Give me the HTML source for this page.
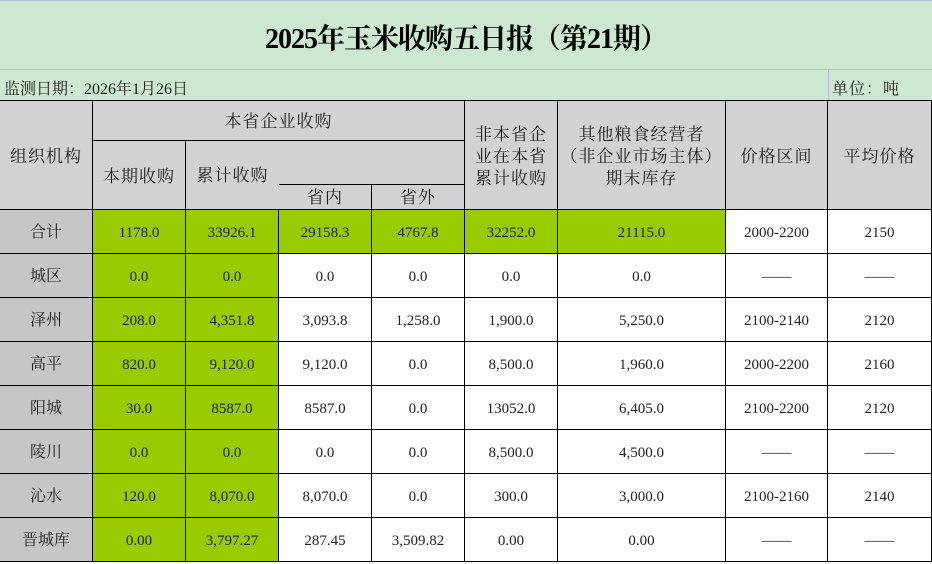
<!DOCTYPE html>
<html><head><meta charset="utf-8">
<style>
*{margin:0;padding:0}
body{width:932px;height:564px;position:relative;background:#fff;overflow:hidden;font-family:"Liberation Serif","Noto Serif CJK SC",serif;color:#222}
.c{position:absolute;box-sizing:border-box;border-right:1px solid #000;border-bottom:1px solid #000;display:flex;align-items:center;justify-content:center;text-align:center;font-size:15px;line-height:1.3;padding-top:4px}
.h{background:#d3d1d3;font-size:17px;letter-spacing:1px}
.n{background:#c6c6c6;font-size:16px}
.g{background:#99cc00}
.w{background:#fff}
</style></head><body>
<div style="position:absolute;left:0;top:0;width:932px;height:70px;background:#cde8d0;border-top:1px solid #b8bcd8;border-bottom:1px solid #b8bcd8;box-sizing:border-box;display:flex;align-items:center;justify-content:center;font-family:'Liberation Serif','Noto Serif CJK SC',serif;font-weight:bold;font-size:28px;color:#000;letter-spacing:-1px;padding-top:4px">2025年玉米收购五日报（第21期）</div>
<div style="position:absolute;left:0;top:70px;width:932px;height:31px;background:#cde8d0"></div>
<div style="position:absolute;left:4px;top:76px;font-size:16px">监测日期：2026年1月26日</div>
<div style="position:absolute;left:828px;top:70px;width:1px;height:31px;background:#b8bcd8"></div>
<div style="position:absolute;left:832px;top:76px;font-size:16px;letter-spacing:1px">单位：吨</div>
<div style="position:absolute;left:0;top:100px;width:932px;height:1px;background:#000"></div>

<div class="c h" style="left:0;top:101px;width:93px;height:109px">组织机构</div>
<div class="c h" style="left:93px;top:101px;width:372px;height:40px">本省企业收购</div>
<div class="c h" style="left:93px;top:141px;width:93px;height:69px">本期收购</div>
<div class="c h" style="left:186px;top:141px;width:93px;height:69px;border-right:none;align-items:flex-start;padding-top:24px">累计收购</div>
<div class="c h" style="left:279px;top:141px;width:186px;height:44px"></div>
<div class="c h" style="left:279px;top:185px;width:93px;height:25px;padding-top:2px">省内</div>
<div class="c h" style="left:372px;top:185px;width:93px;height:25px;padding-top:2px">省外</div>
<div class="c h" style="left:465px;top:101px;width:93px;height:109px">非本省企<br>业在本省<br>累计收购</div>
<div class="c h" style="left:558px;top:101px;width:168px;height:109px">其他粮食经营者<br>（非企业市场主体）<br>期末库存</div>
<div class="c h" style="left:726px;top:101px;width:102px;height:109px">价格区间</div>
<div class="c h" style="left:828px;top:101px;width:104px;height:109px">平均价格</div>

<div class="c n" style="left:0;top:210px;width:93px;height:44px">合计</div>
<div class="c g" style="left:93px;top:210px;width:93px;height:44px">1178.0</div>
<div class="c g" style="left:186px;top:210px;width:93px;height:44px">33926.1</div>
<div class="c g" style="left:279px;top:210px;width:93px;height:44px">29158.3</div>
<div class="c g" style="left:372px;top:210px;width:93px;height:44px">4767.8</div>
<div class="c g" style="left:465px;top:210px;width:93px;height:44px">32252.0</div>
<div class="c g" style="left:558px;top:210px;width:168px;height:44px">21115.0</div>
<div class="c w" style="left:726px;top:210px;width:102px;height:44px">2000-2200</div>
<div class="c w" style="left:828px;top:210px;width:104px;height:44px">2150</div>

<div class="c n" style="left:0;top:254px;width:93px;height:44px">城区</div>
<div class="c g" style="left:93px;top:254px;width:93px;height:44px">0.0</div>
<div class="c g" style="left:186px;top:254px;width:93px;height:44px">0.0</div>
<div class="c w" style="left:279px;top:254px;width:93px;height:44px">0.0</div>
<div class="c w" style="left:372px;top:254px;width:93px;height:44px">0.0</div>
<div class="c w" style="left:465px;top:254px;width:93px;height:44px">0.0</div>
<div class="c w" style="left:558px;top:254px;width:168px;height:44px">0.0</div>
<div class="c w" style="left:726px;top:254px;width:102px;height:44px">——</div>
<div class="c w" style="left:828px;top:254px;width:104px;height:44px">——</div>

<div class="c n" style="left:0;top:298px;width:93px;height:44px">泽州</div>
<div class="c g" style="left:93px;top:298px;width:93px;height:44px">208.0</div>
<div class="c g" style="left:186px;top:298px;width:93px;height:44px">4,351.8</div>
<div class="c w" style="left:279px;top:298px;width:93px;height:44px">3,093.8</div>
<div class="c w" style="left:372px;top:298px;width:93px;height:44px">1,258.0</div>
<div class="c w" style="left:465px;top:298px;width:93px;height:44px">1,900.0</div>
<div class="c w" style="left:558px;top:298px;width:168px;height:44px">5,250.0</div>
<div class="c w" style="left:726px;top:298px;width:102px;height:44px">2100-2140</div>
<div class="c w" style="left:828px;top:298px;width:104px;height:44px">2120</div>

<div class="c n" style="left:0;top:342px;width:93px;height:44px">高平</div>
<div class="c g" style="left:93px;top:342px;width:93px;height:44px">820.0</div>
<div class="c g" style="left:186px;top:342px;width:93px;height:44px">9,120.0</div>
<div class="c w" style="left:279px;top:342px;width:93px;height:44px">9,120.0</div>
<div class="c w" style="left:372px;top:342px;width:93px;height:44px">0.0</div>
<div class="c w" style="left:465px;top:342px;width:93px;height:44px">8,500.0</div>
<div class="c w" style="left:558px;top:342px;width:168px;height:44px">1,960.0</div>
<div class="c w" style="left:726px;top:342px;width:102px;height:44px">2000-2200</div>
<div class="c w" style="left:828px;top:342px;width:104px;height:44px">2160</div>

<div class="c n" style="left:0;top:386px;width:93px;height:44px">阳城</div>
<div class="c g" style="left:93px;top:386px;width:93px;height:44px">30.0</div>
<div class="c g" style="left:186px;top:386px;width:93px;height:44px">8587.0</div>
<div class="c w" style="left:279px;top:386px;width:93px;height:44px">8587.0</div>
<div class="c w" style="left:372px;top:386px;width:93px;height:44px">0.0</div>
<div class="c w" style="left:465px;top:386px;width:93px;height:44px">13052.0</div>
<div class="c w" style="left:558px;top:386px;width:168px;height:44px">6,405.0</div>
<div class="c w" style="left:726px;top:386px;width:102px;height:44px">2100-2200</div>
<div class="c w" style="left:828px;top:386px;width:104px;height:44px">2120</div>

<div class="c n" style="left:0;top:430px;width:93px;height:44px">陵川</div>
<div class="c g" style="left:93px;top:430px;width:93px;height:44px">0.0</div>
<div class="c g" style="left:186px;top:430px;width:93px;height:44px">0.0</div>
<div class="c w" style="left:279px;top:430px;width:93px;height:44px">0.0</div>
<div class="c w" style="left:372px;top:430px;width:93px;height:44px">0.0</div>
<div class="c w" style="left:465px;top:430px;width:93px;height:44px">8,500.0</div>
<div class="c w" style="left:558px;top:430px;width:168px;height:44px">4,500.0</div>
<div class="c w" style="left:726px;top:430px;width:102px;height:44px">——</div>
<div class="c w" style="left:828px;top:430px;width:104px;height:44px">——</div>

<div class="c n" style="left:0;top:474px;width:93px;height:44px">沁水</div>
<div class="c g" style="left:93px;top:474px;width:93px;height:44px">120.0</div>
<div class="c g" style="left:186px;top:474px;width:93px;height:44px">8,070.0</div>
<div class="c w" style="left:279px;top:474px;width:93px;height:44px">8,070.0</div>
<div class="c w" style="left:372px;top:474px;width:93px;height:44px">0.0</div>
<div class="c w" style="left:465px;top:474px;width:93px;height:44px">300.0</div>
<div class="c w" style="left:558px;top:474px;width:168px;height:44px">3,000.0</div>
<div class="c w" style="left:726px;top:474px;width:102px;height:44px">2100-2160</div>
<div class="c w" style="left:828px;top:474px;width:104px;height:44px">2140</div>

<div class="c n" style="left:0;top:518px;width:93px;height:44px">晋城库</div>
<div class="c g" style="left:93px;top:518px;width:93px;height:44px">0.00</div>
<div class="c g" style="left:186px;top:518px;width:93px;height:44px">3,797.27</div>
<div class="c w" style="left:279px;top:518px;width:93px;height:44px">287.45</div>
<div class="c w" style="left:372px;top:518px;width:93px;height:44px">3,509.82</div>
<div class="c w" style="left:465px;top:518px;width:93px;height:44px">0.00</div>
<div class="c w" style="left:558px;top:518px;width:168px;height:44px">0.00</div>
<div class="c w" style="left:726px;top:518px;width:102px;height:44px">——</div>
<div class="c w" style="left:828px;top:518px;width:104px;height:44px">——</div>
</body></html>
